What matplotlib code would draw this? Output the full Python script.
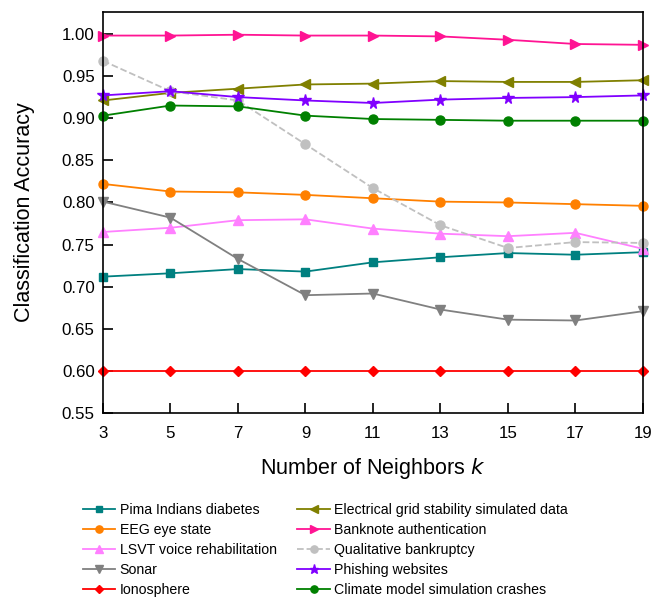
import matplotlib
matplotlib.use('Agg')
import matplotlib.pyplot as plt

plt.rcParams['font.family'] = ['Liberation Sans', 'DejaVu Sans']

k_values = [3, 5, 7, 9, 11, 13, 15, 17, 19]

pima = [0.712, 0.716, 0.721, 0.718, 0.729, 0.735, 0.740, 0.738, 0.741]
eeg = [0.822, 0.813, 0.812, 0.809, 0.805, 0.801, 0.800, 0.798, 0.796]
lsvt = [0.765, 0.770, 0.779, 0.780, 0.769, 0.763, 0.760, 0.764, 0.745]
sonar = [0.801, 0.782, 0.733, 0.690, 0.692, 0.673, 0.661, 0.660, 0.671]
ionosphere = [0.600, 0.600, 0.600, 0.600, 0.600, 0.600, 0.600, 0.600, 0.600]
electrical = [0.921, 0.930, 0.935, 0.940, 0.941, 0.944, 0.943, 0.943, 0.945]
banknote = [0.998, 0.998, 0.999, 0.998, 0.998, 0.997, 0.993, 0.988, 0.987]
bankruptcy = [0.968, 0.932, 0.921, 0.869, 0.817, 0.773, 0.746, 0.753, 0.752]
phishing = [0.927, 0.932, 0.925, 0.921, 0.918, 0.922, 0.924, 0.925, 0.927]
climate = [0.903, 0.915, 0.914, 0.903, 0.899, 0.898, 0.897, 0.897, 0.897]

y_ticks = [0.55, 0.60, 0.65, 0.70, 0.75, 0.80, 0.85, 0.90, 0.95, 1.00]

series = [
    ('Pima Indians diabetes', pima, '#008080', 's', '-', 5.5),
    ('EEG eye state', eeg, '#ff8000', 'o', '-', 6.5),
    ('LSVT voice rehabilitation', lsvt, '#ff80ff', '^', '-', 6.5),
    ('Sonar', sonar, '#808080', 'v', '-', 6.5),
    ('Ionosphere', ionosphere, '#ff0000', 'D', '-', 5.5),
    ('Electrical grid stability simulated data', electrical, '#808000', '<', '-', 6.5),
    ('Banknote authentication', banknote, '#ff1493', '>', '-', 6.5),
    ('Qualitative bankruptcy', bankruptcy, '#c0c0c0', 'o', '--', 6.5),
    ('Phishing websites', phishing, '#8000ff', '*', '-', 8.5),
    ('Climate model simulation crashes', climate, '#008000', 'o', '-', 6.5),
]

fig = plt.figure(figsize=(6.54, 5.98), dpi=100)
ax = fig.add_axes([0.1575, 0.309, 0.8255, 0.671])

for label, vals, color, marker, ls, ms in series:
    ax.plot(k_values, vals, color=color, marker=marker, linestyle=ls,
            markersize=ms, linewidth=1.3, label=label, clip_on=False)

ax.set_xlim(3, 19)
ax.set_ylim(0.55, 1.026)
ax.set_xticks(k_values)
ax.set_yticks(y_ticks)
ax.set_yticklabels([f'{v:.2f}' for v in y_ticks])
ax.tick_params(direction='in', length=7, width=1.2, labelsize=12.2,
               top=False, right=False)
ax.tick_params(axis='x', pad=9)
ax.tick_params(axis='y', pad=6)
for sp in ax.spines.values():
    sp.set_linewidth(1.2)

ax.set_xlabel('Number of Neighbors $k$', fontsize=15.5, labelpad=11)
ax.set_ylabel('Classification Accuracy', fontsize=15.5, labelpad=19)

handles, labels = ax.get_legend_handles_labels()
fig.legend(handles, labels, loc='lower left', ncol=2, frameon=False,
           fontsize=10.2, bbox_to_anchor=(0.118, -0.008), handlelength=2.3,
           labelspacing=0.42, columnspacing=1.45, handletextpad=0.3,
           markerscale=0.8, borderaxespad=0)

fig.savefig('out.png', dpi=100)
